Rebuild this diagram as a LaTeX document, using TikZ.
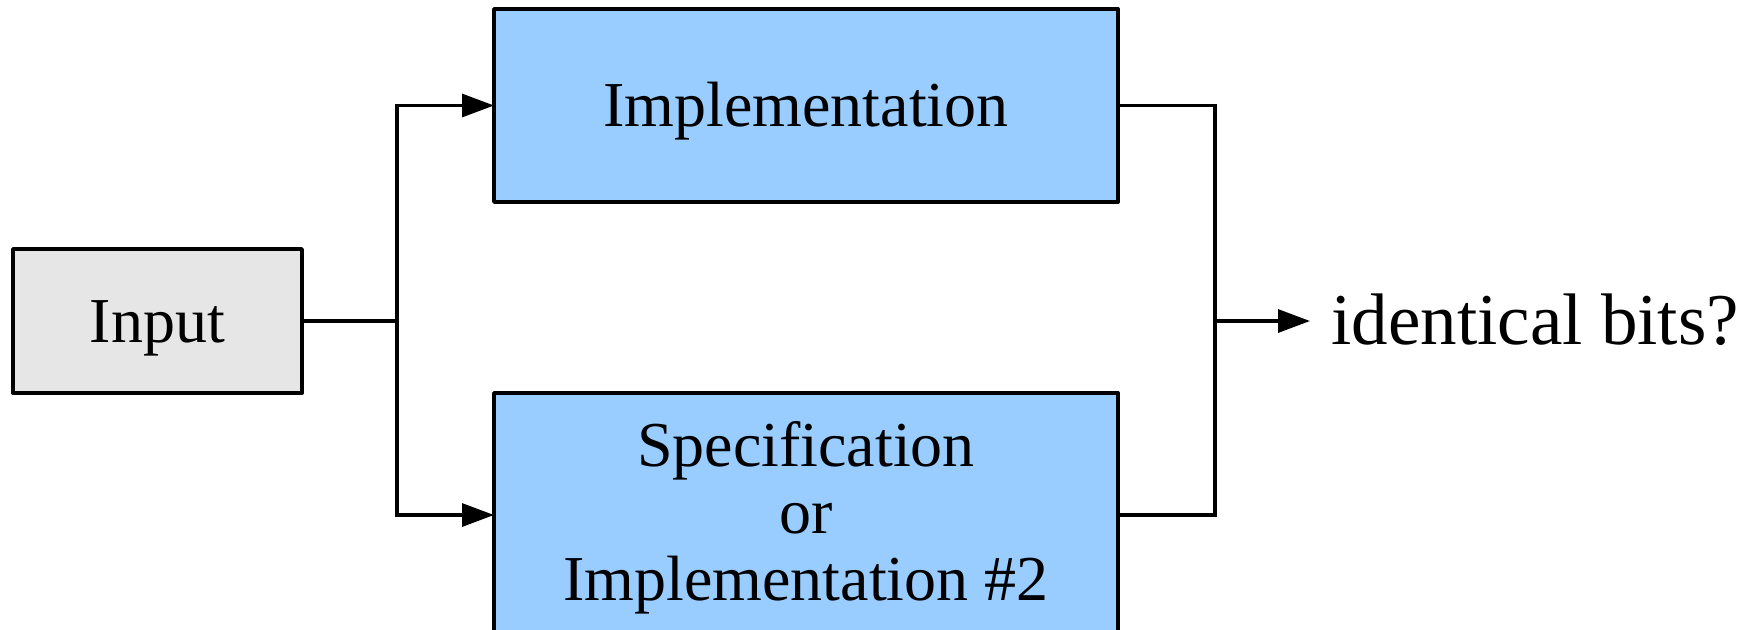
\documentclass[tikz,border=0pt]{standalone}
\usepackage{fontspec}
\setmainfont{Liberation Serif}
\usetikzlibrary{arrows.meta}

\definecolor{boxblue}{RGB}{153,204,255}
\definecolor{boxgray}{RGB}{230,230,230}

\begin{document}
\begin{tikzpicture}[x=0.5pt,y=-0.5pt,
  box/.style={draw=black, line width=1.9pt, line join=round, outer sep=0pt,
    font=\fontsize{32}{33.5}\selectfont},
  onebox/.style={box, text height=21.1pt, text depth=0pt},
  wire/.style={line width=1.6pt},
  arr/.style={wire, -{Triangle[length=16pt,width=11.5pt]}}]
  \useasboundingbox (0,0) rectangle (1759,629);
  \clip (0,0) rectangle (1759,629);

  % blocks
  \node[onebox, fill=boxgray, minimum width=144.5pt, minimum height=72pt]
    (input) at (157.5,321) {Input};
  \node[onebox, fill=boxblue, minimum width=312pt, minimum height=96.5pt]
    (impl) at (806,105.5) {Implementation};
  \node[box, fill=boxblue, minimum width=312pt, minimum height=122pt, align=center]
    (spec) at (806,515) {\rule{0pt}{25pt}Specification\\or\\Implementation \#2};
  \node[anchor=west, inner xsep=10.5pt, inner ysep=0pt,
    font=\fontsize{36.5}{40}\selectfont] (result) at (1310,320) {identical bits?};

  % branch and merge points
  \coordinate (split) at (397,321);
  \coordinate (merge) at (1215,321);

  % connectors
  \draw[wire] (input.east) -- (split);
  \draw[arr] (split) |- (impl.west);
  \draw[arr] (split) |- (spec.west);
  \draw[wire] (impl.east) -| (merge);
  \draw[wire] (spec.east) -| (merge);
  \draw[arr] (merge) -- (merge -| result.west);
\end{tikzpicture}
\end{document}
